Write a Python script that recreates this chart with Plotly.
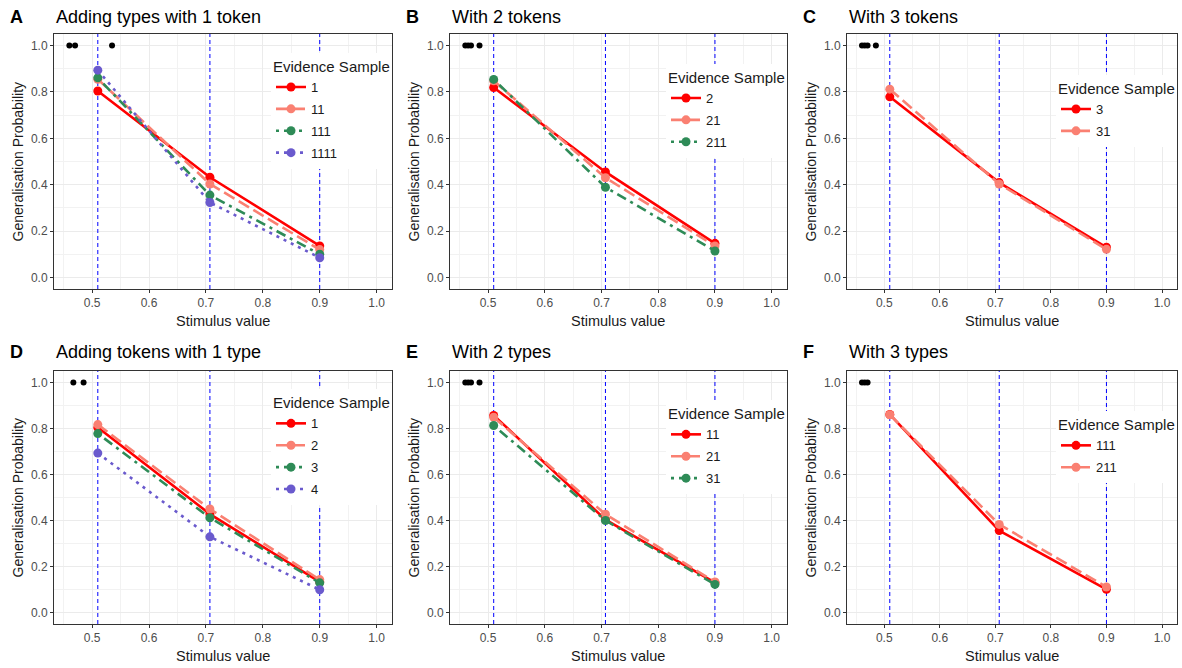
import plotly.graph_objects as go

# ---------------- data ----------------
x_stim = [0.51, 0.707, 0.9]
vlines = [0.51, 0.707, 0.9]

panel_letters = ["A", "B", "C", "D", "E", "F"]
panel_titles = ["Adding types with 1 token", "With 2 tokens", "With 3 tokens",
                "Adding tokens with 1 type", "With 2 types", "With 3 types"]

A_labels = ["1", "11", "111", "1111"]
A_1 = [0.804, 0.432, 0.136]
A_11 = [0.855, 0.403, 0.120]
A_111 = [0.861, 0.355, 0.100]
A_1111 = [0.894, 0.323, 0.085]

B_labels = ["2", "21", "211"]
B_2 = [0.819, 0.455, 0.147]
B_21 = [0.848, 0.430, 0.136]
B_211 = [0.854, 0.389, 0.114]

C_labels = ["3", "31"]
C_3 = [0.779, 0.409, 0.130]
C_31 = [0.812, 0.403, 0.121]

D_labels = ["1", "2", "3", "4"]
D_1 = [0.804, 0.428, 0.133]
D_2 = [0.817, 0.450, 0.143]
D_3 = [0.778, 0.412, 0.129]
D_4 = [0.693, 0.329, 0.099]

E_labels = ["11", "21", "31"]
E_11 = [0.857, 0.404, 0.130]
E_21 = [0.849, 0.427, 0.133]
E_31 = [0.813, 0.400, 0.122]

F_labels = ["111", "211"]
F_111 = [0.861, 0.356, 0.101]
F_211 = [0.860, 0.383, 0.111]

# black reference dots at probability 1.0
A_dots = [0.46, 0.47, 0.535]
B_dots = [0.46, 0.465, 0.47, 0.485]
C_dots = [0.46, 0.465, 0.47, 0.485]
D_dots = [0.467, 0.485]
E_dots = [0.46, 0.465, 0.47, 0.485]
F_dots = [0.46, 0.465, 0.47]

panels = [
    (A_labels, [A_1, A_11, A_111, A_1111], A_dots),
    (B_labels, [B_2, B_21, B_211], B_dots),
    (C_labels, [C_3, C_31], C_dots),
    (D_labels, [D_1, D_2, D_3, D_4], D_dots),
    (E_labels, [E_11, E_21, E_31], E_dots),
    (F_labels, [F_111, F_211], F_dots),
]

# ---------------- styles ----------------
colors = ["#FF0000", "#FA8072", "#2E8B57", "#6A5ACD"]
dashes = ["solid", "12px,5px", "3px,5px,10px,5px", "3px,5px"]
FONT = "Liberation Sans, Arial, sans-serif"
Y_RANGE = [-0.05, 1.05]

W, H = 1182, 668
col_px = [(54, 392), (450, 787), (847, 1177)]
row_px = [(34, 289), (371, 624)]

fig = go.Figure()
layout = dict(
    width=W, height=H, margin=dict(l=0, r=0, t=0, b=0),
    paper_bgcolor="white", plot_bgcolor="white",
    font=dict(family=FONT, color="#1A1A1A"),
    showlegend=True,
)
annotations = []

for i, (labels, series, dots) in enumerate(panels):
    r, c = divmod(i, 3)
    n = i + 1
    xa = "x" if n == 1 else f"x{n}"
    ya = "y" if n == 1 else f"y{n}"
    xkey = "xaxis" if n == 1 else f"xaxis{n}"
    ykey = "yaxis" if n == 1 else f"yaxis{n}"
    lkey = "legend" if n == 1 else f"legend{n}"
    x0, x1 = col_px[c]
    yt, yb = row_px[r]
    xd = [x0 / W, x1 / W]
    yd = [1 - yb / H, 1 - yt / H]

    common = dict(
        showline=True, mirror=True, linecolor="#333333", linewidth=1,
        ticks="outside", ticklen=3, tickcolor="#333333", tickwidth=1,
        tickfont=dict(size=12, color="#4D4D4D", family=FONT),
        showgrid=True, gridcolor="#EBEBEB", gridwidth=1, zeroline=False,
    )
    layout[xkey] = dict(
        domain=xd, anchor=ya, range=[0.433, 1.027],
        tickmode="linear", tick0=0.5, dtick=0.1, tickformat=".1f",
        minor=dict(tick0=0.45, dtick=0.1, showgrid=True, gridcolor="#F2F2F2", gridwidth=0.6, ticks=""),
        **common,
    )
    layout[ykey] = dict(
        domain=yd, anchor=xa, range=Y_RANGE,
        tickmode="linear", tick0=0, dtick=0.2, tickformat=".1f",
        minor=dict(tick0=0.1, dtick=0.2, showgrid=True, gridcolor="#F2F2F2", gridwidth=0.6, ticks=""),
        **common,
    )

    # vertical reference lines (drawn first, under the data)
    for v in vlines:
        fig.add_trace(go.Scatter(x=[v, v], y=Y_RANGE, mode="lines", xaxis=xa, yaxis=ya,
                                 line=dict(color="#0000FF", width=1, dash="4px,3px"),
                                 showlegend=False, hoverinfo="skip"))

    # black dots
    fig.add_trace(go.Scatter(x=dots, y=[1.0] * len(dots), mode="markers", xaxis=xa, yaxis=ya,
                             marker=dict(color="black", size=6), showlegend=False, hoverinfo="skip"))

    for k, (lab, vals) in enumerate(zip(labels, series)):
        fig.add_trace(go.Scatter(
            x=x_stim, y=vals, mode="lines+markers", name=lab, xaxis=xa, yaxis=ya,
            legend=lkey, legendgroup=f"p{n}_{lab}",
            line=dict(color=colors[k], width=2.6, dash=dashes[k]),
            marker=dict(color=colors[k], size=9),
        ))

    # legend placement: right edge at panel edge, centred at 70% of panel height
    lx = x1 / W
    ly = 1 - (yb - 0.7 * (yb - yt)) / H
    layout[lkey] = dict(
        x=lx, y=ly, xanchor="right", yanchor="middle", xref="paper", yref="paper",
        bgcolor="white", borderwidth=0,
        title=dict(text="Evidence Sample", font=dict(size=15, color="#1A1A1A", family=FONT)),
        font=dict(size=13, color="#1A1A1A", family=FONT),
        itemwidth=30, traceorder="grouped", tracegroupgap=2,
    )

    # panel tag + title
    ty = 1 - (17 if r == 0 else 352) / H
    annotations.append(dict(text="<b>" + panel_letters[i] + "</b>", x=(x0 - 46) / W, y=ty,
                            xref="paper", yref="paper", xanchor="left", yanchor="middle",
                            showarrow=False, font=dict(size=18, color="black", family=FONT)))
    annotations.append(dict(text=panel_titles[i], x=x0 / W, y=ty,
                            xref="paper", yref="paper", xanchor="left", yanchor="middle",
                            showarrow=False, font=dict(size=18, color="black", family=FONT)))
    # axis titles
    annotations.append(dict(text="Stimulus value", x=(x0 + x1) / 2 / W, y=1 - (yb + 32) / H,
                            xref="paper", yref="paper", xanchor="center", yanchor="middle",
                            showarrow=False, font=dict(size=14.5, color="#1A1A1A", family=FONT)))
    annotations.append(dict(text="Generalisation Probability", x=(x0 - 36) / W, y=1 - (yt + yb) / 2 / H,
                            xref="paper", yref="paper", xanchor="center", yanchor="middle",
                            textangle=-90, showarrow=False,
                            font=dict(size=14, color="#1A1A1A", family=FONT)))

layout["annotations"] = annotations
fig.update_layout(**layout)
fig.write_html("out.html", config={"displayModeBar": False},
               post_script="document.body.style.margin='0px';")
